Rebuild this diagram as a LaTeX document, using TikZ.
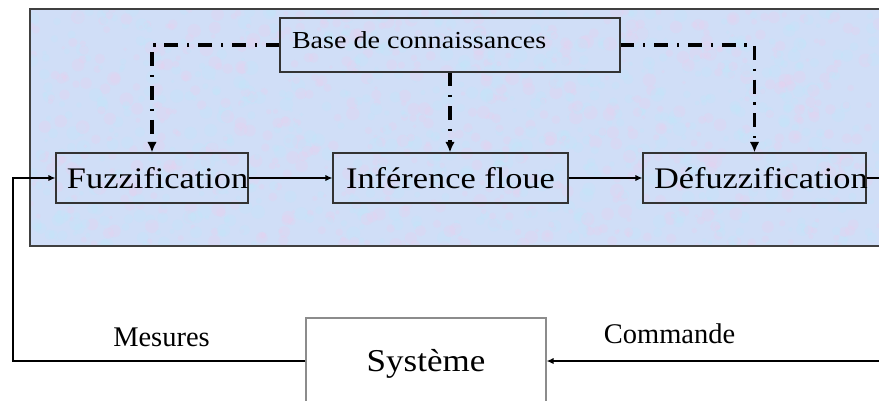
\documentclass[tikz,border=0pt]{standalone}
\usepackage{fontspec}
\setmainfont{Liberation Serif}
\newfontfamily\blocfont[FakeStretch=1.15]{Liberation Serif}
\newfontfamily\sysfont[FakeStretch=1.1]{Liberation Serif}
\usetikzlibrary{arrows.meta}

\definecolor{fond}{RGB}{208,222,247}
\definecolor{rose}{RGB}{230,210,240}
\definecolor{ciel}{RGB}{194,230,250}

\begin{document}
\begin{tikzpicture}[
  x=0.2mm,
  y=-0.2mm,
  bloc/.style={draw=black!80, line width=0.6pt, minimum height=1cm, inner xsep=0.22cm,
    font=\blocfont\fontsize{17}{20}\selectfont},
  lien/.style={-{Latex[length=4pt,width=3.6pt]}, line width=0.85pt},
  connaiss/.style={-{Latex[length=6pt,width=5.4pt]}, line width=2pt,
    dash pattern=on 7.9pt off 5pt on 1.3pt off 5pt},
  etiq/.style={font=\fontsize{16.2}{19}\selectfont}
]

\useasboundingbox (0,0) rectangle (879,400);

% fond du regulateur flou
\fill[fond] (30,9) rectangle (881,246);
\begin{scope}
  \clip (30,9) rectangle (881,246);
  \pgfmathsetseed{7}
  \foreach \i in {1,...,700}{
    \fill[rose, opacity=0.35] (30+850*rnd, 9+237*rnd) circle ({(1+3*rnd)*1pt});
    \fill[ciel, opacity=0.35] (30+850*rnd, 9+237*rnd) circle ({(1+3*rnd)*1pt});
  }
\end{scope}
\draw[black!75, line width=0.6pt] (30,9) rectangle (881,246);

\node[bloc, minimum width=6.8cm, minimum height=1.08cm, inner xsep=0.24cm, text depth=0.21cm,
  font=\blocfont\fontsize{13.9}{16}\selectfont] (bc) at (450,45)
  {\makebox[6.32cm][l]{Base de connaissances}};

\node[bloc, minimum width=3.84cm] (fuz) at (152,178) {\makebox[3.40cm][l]{Fuzzification}};
\node[bloc, minimum width=4.7cm] (inf) at (450.5,178) {Inférence floue};
\node[bloc, minimum width=4.46cm] (defuz) at (754.5,178) {\makebox[4.02cm][l]{Défuzzification}};

\node[draw=black!45, line width=0.6pt, minimum width=4.8cm, minimum height=1.82cm,
  font=\sysfont\fontsize{18.1}{21}\selectfont] (sys) at (426,363.5) {Système};

\node[etiq] (mes) at (161.5,337.5) {Mesures};
\node[etiq] (cmd) at (669.5,333.5) {Commande};

\coordinate (retour) at (880,361);
\coordinate (mesure) at (13,361);

% chaine directe
\draw[lien] (fuz.east) -- (inf.west);
\draw[lien] (inf.east) -- (defuz.west);

% boucle
\draw[lien] (defuz.east) -| (retour) -- (retour -| sys.east);
\draw[lien] (mesure -| sys.west) -- (mesure) |- (fuz.west);

% base de connaissances
\draw[connaiss] (bc.west) -| (fuz.north);
\draw[connaiss] (bc.south) -- (bc.south |- inf.north);
\draw[connaiss] (bc.east) -| (defuz.north);

\end{tikzpicture}
\end{document}
